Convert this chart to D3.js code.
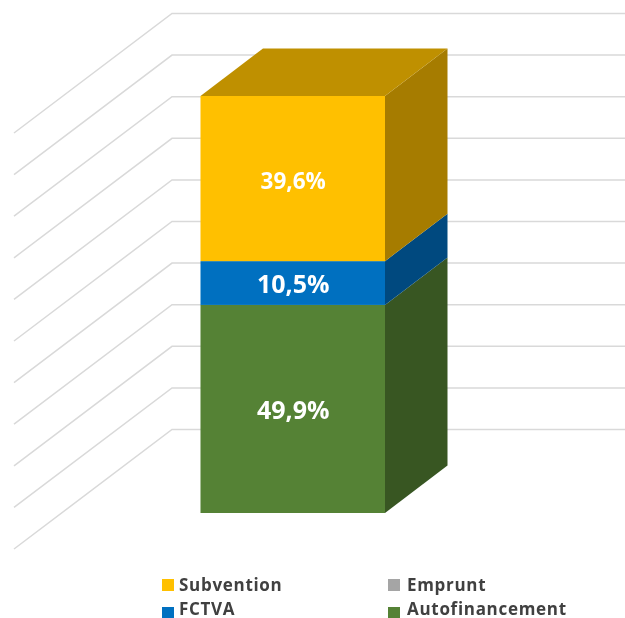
<!DOCTYPE html>
<html>
<head>
<meta charset="utf-8">
<script src="https://d3js.org/d3.v7.min.js"></script>
<style>
  html, body { margin: 0; padding: 0; background: #fff; overflow: hidden; }
  text { font-family: "Open Sans", Lato, sans-serif; font-weight: 700; }
</style>
</head>
<body>
<div id="chart"></div>
<script>
// Data
const seriesNames = ['Autofinancement', 'Emprunt', 'FCTVA', 'Subvention']
const seriesValues = [49.9, 0, 10.5, 39.6]
const legendOrder = ['Subvention', 'Emprunt', 'FCTVA', 'Autofinancement']
const gridTicks = [0, 10, 20, 30, 40, 50, 60, 70, 80, 90, 100]

const frontColors = ['#548235', '#A5A5A5', '#0070C0', '#FFC000']
const sideColors = ['#375623', '#636363', '#004A7F', '#A67C00']
const topColor = '#BF9000'

// Dimensions
const dimensions = {
  width: 625,
  height: 618,
  barLeft: 200.5,
  barRight: 385,
  barBottom: 513,
  barTop: 96,
  barDepthX: 62.5,
  barDepthY: -47.5,
  gridBack: 172,
  gridFrontX: 14,
  gridFrontY: 119.5,
  gridBottom: 429.5,
  gridTop: 13.5,
}

const row = {}
seriesNames.forEach((name, i) => { row[name] = seriesValues[i] })
const stacked = d3.stack().keys(seriesNames)([row])
  .map((s, i) => ({ name: s.key, y0: s[0][0], y1: s[0][1], i }))
  .filter(d => d.y1 > d.y0)

// Scales
const yBar = d3.scaleLinear().domain([0, 100]).range([dimensions.barBottom, dimensions.barTop])
const yGrid = d3.scaleLinear().domain([0, 100]).range([dimensions.gridBottom, dimensions.gridTop])

// Draw Image
const svg = d3.select('#chart')
  .append('svg')
  .attr('width', dimensions.width)
  .attr('height', dimensions.height)
  .style('display', 'block')

const soften = svg.append('defs').append('filter')
  .attr('id', 'soften')
  .attr('filterUnits', 'userSpaceOnUse')
  .attr('x', 0).attr('y', 0).attr('width', dimensions.width).attr('height', dimensions.height)
soften.append('feGaussianBlur').attr('stdDeviation', 0.5)

const ctr = svg.append('g').attr('filter', 'url(#soften)')

// Gridlines: floor wall edge then back wall
ctr.append('g')
  .selectAll('path')
  .data(gridTicks)
  .join('path')
  .attr('d', d => d3.line()([
    [dimensions.gridFrontX, yGrid(d) + dimensions.gridFrontY],
    [dimensions.gridBack, yGrid(d)],
    [dimensions.width, yGrid(d)],
  ]))
  .attr('fill', 'none')
  .attr('stroke', '#D9D9D9')
  .attr('stroke-width', 1.5)

// Side faces
ctr.append('g')
  .selectAll('path')
  .data(stacked)
  .join('path')
  .attr('d', d => d3.line()([
    [dimensions.barRight, yBar(d.y0)],
    [dimensions.barRight + dimensions.barDepthX, yBar(d.y0) + dimensions.barDepthY],
    [dimensions.barRight + dimensions.barDepthX, yBar(d.y1) + dimensions.barDepthY],
    [dimensions.barRight, yBar(d.y1)],
  ]) + 'Z')
  .attr('fill', d => sideColors[d.i])

// Top face
ctr.append('path')
  .attr('d', d3.line()([
    [dimensions.barLeft, yBar(100)],
    [dimensions.barLeft + dimensions.barDepthX, yBar(100) + dimensions.barDepthY],
    [dimensions.barRight + dimensions.barDepthX, yBar(100) + dimensions.barDepthY],
    [dimensions.barRight, yBar(100)],
  ]) + 'Z')
  .attr('fill', topColor)

// Front faces
ctr.append('g')
  .selectAll('rect')
  .data(stacked)
  .join('rect')
  .attr('x', dimensions.barLeft)
  .attr('width', dimensions.barRight - dimensions.barLeft)
  .attr('y', d => yBar(d.y1))
  .attr('height', d => yBar(d.y0) - yBar(d.y1))
  .attr('fill', d => frontColors[d.i])

// Value labels
const labelOffset = { Autofinancement: 1.5, FCTVA: 1.5, Subvention: 3 }
const labelSize = { Autofinancement: 25, FCTVA: 25, Subvention: 22.5 }
ctr.append('g')
  .selectAll('text')
  .data(stacked)
  .join('text')
  .attr('x', (dimensions.barLeft + dimensions.barRight) / 2 + 0.5)
  .attr('y', d => yBar((d.y0 + d.y1) / 2) + labelOffset[d.name])
  .attr('dy', '0.35em')
  .attr('text-anchor', 'middle')
  .attr('fill', '#fff')
  .attr('font-size', d => labelSize[d.name])
  .text(d => d3.format('.1f')(d.y1 - d.y0).replace('.', ',') + '%')

// Legend
const legendX = d3.scalePoint().domain([0, 1]).range([162, 388])
const swatchY = d3.scalePoint().domain([0, 1]).range([579, 607])
const baselineY = d3.scalePoint().domain([0, 1]).range([590.5, 615])
const legend = ctr.append('g')
  .selectAll('g')
  .data(legendOrder)
  .join('g')

legend.append('rect')
  .attr('x', (d, i) => legendX(i % 2))
  .attr('y', (d, i) => swatchY(Math.floor(i / 2)))
  .attr('width', 12)
  .attr('height', 12)
  .attr('fill', d => frontColors[seriesNames.indexOf(d)])

legend.append('text')
  .attr('x', (d, i) => legendX(i % 2) + (i % 2 ? 19 : 17))
  .attr('y', (d, i) => baselineY(Math.floor(i / 2)))
  .attr('fill', '#404040')
  .attr('font-size', 17)
  .attr('letter-spacing', 0.7)
  .text(d => d)
</script>
</body>
</html>
